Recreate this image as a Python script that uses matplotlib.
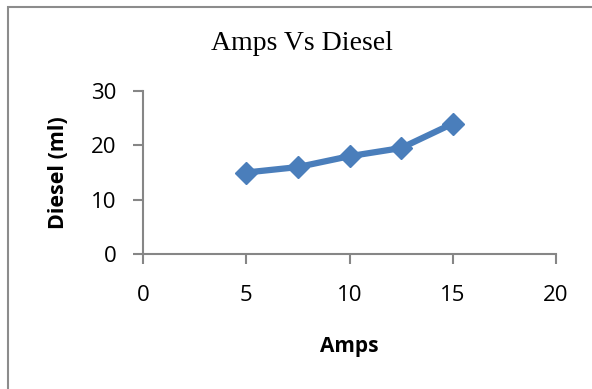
import matplotlib.pyplot as plt
from matplotlib.patches import Rectangle

# data
amps = [5, 7.5, 10, 12.5, 15]
diesel = [15, 16, 18, 19.5, 24]
x_ticks = [0, 5, 10, 15, 20]
y_ticks = [0, 10, 20, 30]

fig = plt.figure(figsize=(5.92, 3.89), dpi=100)

# chart-area border (only left and top show in the crop)
fig.patches.append(Rectangle((8 / 592, -0.1), 1.2, (389 - 7) / 389 + 0.1,
                             transform=fig.transFigure, fill=False,
                             edgecolor="#8c8c8c", linewidth=1.5))

ax = fig.add_axes([143 / 592, 1 - 254 / 389, (556 - 143) / 592, (254 - 91) / 389])

ax.plot(amps, diesel, color="#4a7ebb", linewidth=4.5, marker="D",
        markersize=11, solid_joinstyle="round")

ax.set_xlim(0, 20)
ax.set_ylim(0, 30)
ax.set_xticks(x_ticks)
ax.set_yticks(y_ticks)

for side in ["top", "right"]:
    ax.spines[side].set_visible(False)
for side in ["left", "bottom"]:
    ax.spines[side].set_color("#868686")
    ax.spines[side].set_linewidth(1.5)

ax.tick_params(direction="out", length=7, width=1.5, color="#868686",
               labelsize=16)
ax.tick_params(axis="y", pad=12)
ax.tick_params(axis="x", pad=15)
for lbl in ax.get_xticklabels() + ax.get_yticklabels():
    lbl.set_family("Open Sans")

ax.set_xlabel("Amps", fontsize=15, fontweight="bold", family="Open Sans",
              labelpad=22)
ax.set_ylabel("Diesel (ml)", fontsize=15.5, fontweight="bold", family="Open Sans",
              labelpad=16)

fig.text(302 / 592, 1 - 43 / 389, "Amps Vs Diesel", ha="center", va="center",
         fontsize=20, family="Liberation Serif")

fig.savefig("out.png", dpi=100)
